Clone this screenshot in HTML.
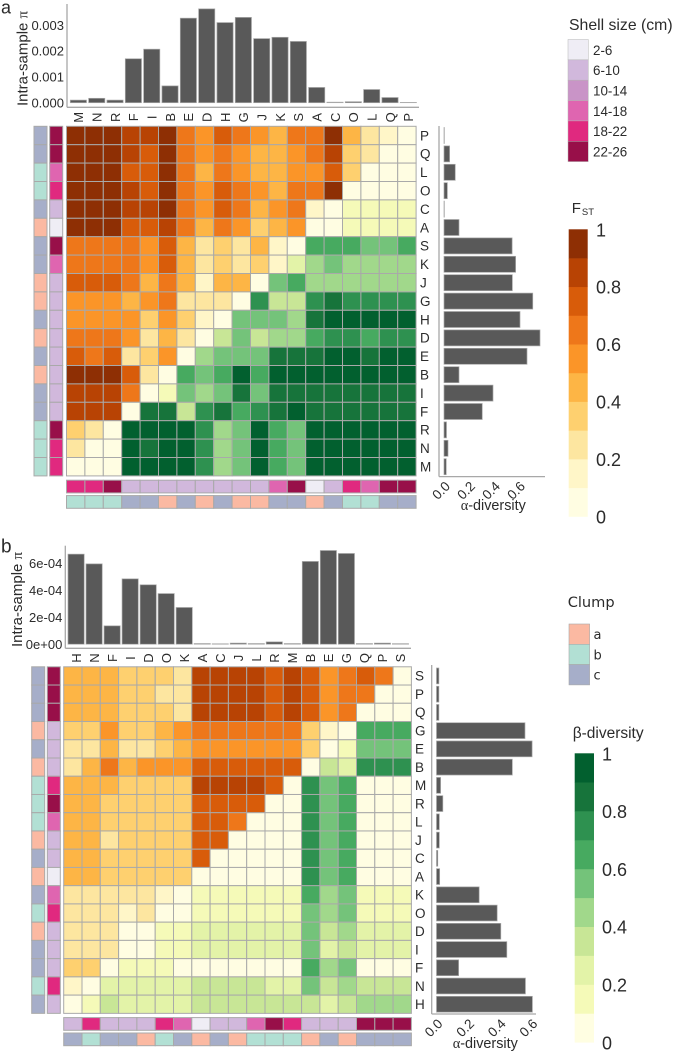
<!DOCTYPE html>
<html>
<head>
<meta charset="utf-8">
<title>Population genetics heatmaps</title>
<style>
html,body{margin:0;padding:0;background:#fff;width:675px;height:1052px;overflow:hidden}
svg{display:block;filter:blur(0.35px)}
text{font-family:"Liberation Sans",sans-serif;fill:#2b2b2b}
</style>
</head>
<body>
<svg id="chart" xmlns="http://www.w3.org/2000/svg" width="675" height="1052" viewBox="0 0 675 1052">
<text x="1" y="13.5" font-size="18">a</text>
<text x="1" y="552.5" font-size="19">b</text>
</svg>
<script>
/* Palettes: decile codes 0-9 = FST (orange), 10-19 = beta-diversity (green) */
const fstColors = ['#fffde2','#fff6c8','#fde6a0','#fed06f','#fdb545','#fb9528','#ee771a','#d85c0a','#b84304','#8e2f04'];
const betaColors = ['#fffee2','#f5fab8','#e3f3a8','#c8e696','#a1d88b','#74c37a','#47aa60','#2e9150','#17743b','#02602f'];
const shellColors = ['#efedf5','#d1b8dc','#c994c7','#df65b0','#e0297f','#980f49'];
const clumpColors = ['#fbb9a2','#b2e0d4','#a6aec9'];

const shellLabels = ['2-6','6-10','10-14','14-18','18-22','22-26'];
const clumpLabels = ['a','b','c'];
const scaleLabels = ['1','0.8','0.6','0.4','0.2','0'];

/* Panel a */
const colsA = ['M','N','R','F','I','B','E','D','H','G','J','K','S','A','C','O','L','Q','P'];
const rowsA = ['P','Q','L','O','C','A','S','K','J','G','H','D','E','B','I','F','R','N','M'];
const matrixA = [
[9,9,9,8,8,9,6,5,7,6,5,4,6,6,9,4,2,1,0],
[9,9,9,8,7,9,6,5,6,5,4,4,5,6,8,3,2,0,0],
[9,9,9,7,7,9,6,4,6,5,4,4,5,5,7,3,0,0,0],
[9,9,9,8,7,9,6,5,7,6,5,4,6,6,9,0,0,0,0],
[9,9,9,8,8,9,6,5,7,6,4,5,6,1,0,11,11,11,11],
[9,9,9,7,7,8,6,4,6,5,3,4,5,0,0,11,11,11,11],
[6,6,6,6,5,7,4,2,3,2,4,1,0,16,16,16,15,15,16],
[6,6,6,6,5,7,4,2,3,2,3,1,12,14,15,14,14,14,14],
[7,7,7,6,4,6,4,1,4,4,0,15,16,14,14,14,14,14,14],
[5,5,5,4,5,6,2,2,2,0,17,13,13,17,18,17,17,17,17],
[5,5,5,5,3,5,3,1,0,15,15,15,14,18,19,19,19,19,19],
[6,6,6,5,2,4,2,0,13,15,13,14,14,16,17,17,16,17,17],
[7,6,7,2,3,5,0,14,15,15,15,18,18,18,19,19,18,19,19],
[9,9,9,7,2,0,16,15,16,19,16,19,19,19,19,19,19,19,19],
[8,8,8,6,0,11,15,14,15,18,15,18,18,18,18,18,18,18,18],
[8,8,8,0,18,18,13,17,18,16,17,18,19,18,18,18,18,18,18],
[3,2,0,19,19,19,19,17,14,15,19,16,15,19,19,19,19,19,19],
[2,0,0,19,18,19,19,17,14,15,19,16,15,19,19,19,19,19,19],
[0,0,0,19,19,19,19,17,14,15,19,16,15,19,19,19,19,19,19]
];
const rowClumpA = [2,2,1,1,2,0,2,2,0,0,2,0,2,0,2,2,1,1,1];
const rowShellA = [5,5,3,4,1,0,5,3,1,1,1,1,1,1,1,1,5,4,4];
const colShellA = [4,4,5,1,1,1,1,1,1,1,1,3,5,0,1,4,3,5,5];
const colClumpA = [1,1,1,2,2,0,2,0,2,0,0,2,2,0,2,1,1,2,2];
const piA = [0.0001,0.00017,0.0001,0.0017,0.00207,0.00065,0.00327,0.00363,0.0031,0.0033,0.00248,0.00253,0.00237,0.00059,0.00002,0.00004,0.00051,0.0002,0.00001];
const piTicksA = [0,0.001,0.002,0.003];
const piTickLabelsA = ['0.000','0.001','0.002','0.003'];
const alphaA = [0.003,0.045,0.09,0.027,0.003,0.12,0.545,0.573,0.547,0.71,0.608,0.768,0.664,0.12,0.392,0.306,0.02,0.032,0.018];

/* Panel b */
const colsB = ['H','N','F','I','D','O','K','A','C','J','L','R','M','B','E','G','Q','P','S'];
const rowsB = ['S','P','Q','G','E','B','M','R','L','J','C','A','K','O','D','I','F','N','H'];
const matrixB = [
[4,4,4,3,3,3,2,8,8,8,8,7,8,7,5,6,7,6,0],
[4,4,4,3,3,2,2,8,8,8,8,7,8,7,5,6,6,0,0],
[4,4,4,3,3,3,2,8,8,8,8,7,8,7,5,6,0,0,0],
[3,3,5,3,3,4,5,6,6,6,6,6,6,3,1,0,16,16,16],
[2,2,4,2,2,3,4,5,5,5,5,5,5,3,0,11,15,15,15],
[2,4,6,4,5,5,5,7,7,7,7,7,7,0,13,12,17,17,17],
[4,4,4,3,3,3,3,8,8,8,8,7,0,17,15,16,0,0,0],
[4,4,3,3,3,3,3,7,7,7,7,0,0,17,15,16,0,0,0],
[4,4,3,3,3,3,3,7,7,6,0,0,0,17,15,16,0,0,0],
[4,4,2,3,3,3,3,7,7,0,0,0,0,17,15,16,0,0,0],
[4,4,3,3,3,3,3,7,0,0,0,0,0,17,15,16,0,0,0],
[4,4,3,3,3,3,3,0,0,0,0,0,0,17,15,16,0,0,0],
[2,2,2,2,2,1,0,11,11,11,11,11,11,16,14,15,11,11,11],
[2,2,2,1,2,0,0,11,11,11,11,11,11,15,14,15,11,11,11],
[2,2,2,0,0,11,11,12,12,12,12,12,12,15,13,14,12,12,12],
[2,2,2,0,0,11,11,12,12,12,12,12,12,15,12,13,12,12,12],
[3,3,0,11,11,11,0,0,0,0,0,0,0,16,14,15,0,0,0],
[1,0,12,12,12,12,12,13,13,13,13,12,12,15,13,14,13,13,13],
[0,11,13,12,12,12,12,13,13,13,13,13,13,13,12,13,14,14,14]
];
const rowClumpB = [2,2,2,0,2,0,1,1,1,0,2,0,2,1,0,2,2,1,2];
const rowShellB = [5,5,5,1,1,1,4,5,3,1,1,0,3,4,1,1,1,4,1];
const colShellB = [1,4,1,1,1,4,3,0,1,1,3,5,4,1,1,1,5,5,5];
const colClumpB = [2,1,2,2,0,1,2,0,2,0,1,1,1,0,2,0,2,2,2];
const piB = [6.67e-4,5.95e-4,1.36e-4,4.84e-4,4.4e-4,3.75e-4,2.72e-4,0.05e-4,0.03e-4,0.08e-4,0.05e-4,0.17e-4,0.05e-4,6.13e-4,6.94e-4,6.72e-4,0.05e-4,0.08e-4,0.04e-4];
const piTicksB = [0,2e-4,4e-4,6e-4];
const piTickLabelsB = ['0e+00','2e-04','4e-04','6e-04'];
const alphaB = [0.015,0.015,0.015,0.56,0.605,0.48,0.026,0.04,0.018,0.018,0.008,0.02,0.27,0.384,0.407,0.445,0.14,0.563,0.607];

const alphaTicks = [0,0.2,0.4,0.6];
const alphaTickLabels = ['0.0','0.2','0.4','0.6'];

const svg = document.getElementById('chart');
const NS = 'http://www.w3.org/2000/svg';
const GRID = '#a9a9a9';

function shape(tag, attrs) {
  const el = document.createElementNS(NS, tag);
  for (const k in attrs) el.setAttribute(k, attrs[k]);
  svg.appendChild(el);
  return el;
}
function label(str, attrs) {
  const el = shape('text', attrs);
  el.textContent = str;
  return el;
}
function cellColor(v) {
  return v < 10 ? fstColors[v] : betaColors[v - 10];
}

function drawPanel(p) {
  const xCell = i => p.heatLeft + i * p.cellW;
  const yCell = i => p.heatTop + i * p.cellH;
  const xTopBar = i => p.topBarStart + i * p.topBarStep;
  const yPi = v => p.piZero - v * p.piScale;
  const xAlpha = v => p.alphaZero + v * p.alphaScale;

  /* heatmap */
  p.matrix.forEach((row, r) => {
    row.forEach((v, c) => {
      const cell = shape('rect', {x: xCell(c), y: yCell(r), width: p.cellW, height: p.cellH, fill: cellColor(v), stroke: GRID, 'stroke-width': 1});
      
      
    });
  });

  /* row annotation strips and row labels */
  p.rows.forEach((name, r) => {
    const a = shape('rect', {x: p.clumpX, y: yCell(r), width: 13, height: p.cellH, fill: clumpColors[p.rowClump[r]], stroke: GRID, 'stroke-width': 1});
    
    
    const b = shape('rect', {x: p.shellX, y: yCell(r), width: 13, height: p.cellH, fill: shellColors[p.rowShell[r]], stroke: GRID, 'stroke-width': 1});
    
    
    const t = label(name, {x: p.rowLabelX, y: yCell(r) + p.cellH / 2 + 4.8, 'font-size': 13.5});
    
    
    const bar = shape('rect', {x: xAlpha(0), y: yCell(r) + 1.2, width: xAlpha(p.alpha[r]) - xAlpha(0), height: p.cellH - 2.4, fill: '#595959', stroke: '#a8a8a8', 'stroke-width': 0.7});
    
    
  });

  /* column annotation strips, column labels, top bars */
  p.cols.forEach((name, c) => {
    const a = shape('rect', {x: xCell(c), y: p.colShellY, width: p.cellW, height: 12.7, fill: shellColors[p.colShell[c]], stroke: GRID, 'stroke-width': 1});
    
    
    const b = shape('rect', {x: xCell(c), y: p.colClumpY, width: p.cellW, height: 12.7, fill: clumpColors[p.colClump[c]], stroke: GRID, 'stroke-width': 1});
    
    
    const bx = xTopBar(c);
    const bar = shape('rect', {x: bx, y: yPi(p.pi[c]), width: 16.2, height: yPi(0) - yPi(p.pi[c]), fill: '#595959', stroke: '#a8a8a8', 'stroke-width': 0.7});
    
    
    const t = label(name, {transform: 'translate(' + (bx + 8.2) + ',' + p.colLabelY + ') rotate(-90)', 'text-anchor': 'middle', dy: '0.36em', 'font-size': 13});
    
    
  });

  /* top axis */
  const topY = shape('line', {x1: p.piAxisX, x2: p.piAxisX, y1: p.piAxisTop, y2: p.piAxisBottom, stroke: '#a8a8a8', 'stroke-width': 1.3});
  
  
  const topX = shape('line', {x1: p.piAxisX, x2: p.piAxisRight, y1: p.piAxisBottom, y2: p.piAxisBottom, stroke: '#a8a8a8', 'stroke-width': 1.3});
  
  
  p.piTicks.forEach((v, i) => {
    const t = label(p.piTickLabels[i], {x: p.piAxisX - 3, y: yPi(v) + 4.6, 'text-anchor': 'end', 'font-size': 13});
    
    
  });
  const piTitle = label('Intra-sample ', {transform: 'translate(' + p.piTitleX + ',' + p.piTitleY + ') rotate(-90)', 'font-size': 15});
  const piSym = document.createElementNS(NS, 'tspan');
  piSym.setAttribute('font-family', '"Liberation Serif",serif');
  piSym.textContent = 'π';
  piTitle.appendChild(piSym);
  
  

  /* alpha axis */
  const alY = shape('line', {x1: p.alAxisX, x2: p.alAxisX, y1: p.alAxisTop, y2: p.alAxisBottom, stroke: '#a8a8a8', 'stroke-width': 1.3});
  
  
  const alX = shape('line', {x1: p.alAxisX, x2: p.alAxisRight, y1: p.alAxisBottom, y2: p.alAxisBottom, stroke: '#a8a8a8', 'stroke-width': 1.3});
  
  
  alphaTicks.forEach((v, i) => {
    const t = label(alphaTickLabels[i], {transform: 'translate(' + (xAlpha(v) + 7) + ',' + (p.alAxisBottom + 10.5) + ') rotate(-45)', 'text-anchor': 'end', 'font-size': 13.5});
    
    
  });
  const alTitle = label('', {x: p.alTitleX, y: p.alTitleY, 'font-size': 14.4});
  const alSym = document.createElementNS(NS, 'tspan');
  alSym.setAttribute('font-family', '"Liberation Serif",serif');
  alSym.textContent = 'α';
  alTitle.appendChild(alSym);
  alTitle.appendChild(document.createTextNode('-diversity'));
  
  
}

drawPanel({id:'a', cols:colsA, rows:rowsA, matrix:matrixA, rowClump:rowClumpA, rowShell:rowShellA, colShell:colShellA, colClump:colClumpA, pi:piA, piTicks:piTicksA, piTickLabels:piTickLabelsA, alpha:alphaA,
  heatLeft:66.5, heatTop:126.3, cellW:18.4, cellH:18.4, clumpX:34, shellX:49.7, colShellY:480.2, colClumpY:495.6, rowLabelX:420,
  topBarStart:70.3, topBarStep:18.33, colLabelY:117.3, piZero:102.7, piScale:25850, piAxisX:67, piAxisTop:4, piAxisBottom:107.3, piAxisRight:419, piTitleX:27.5, piTitleY:106,
  alphaZero:444, alphaScale:125, alAxisX:439, alAxisTop:126, alAxisBottom:476.6, alAxisRight:545, alTitleX:460.7, alTitleY:510});

drawPanel({id:'b', cols:colsB, rows:rowsB, matrix:matrixB, rowClump:rowClumpB, rowShell:rowShellB, colShell:colShellB, colClump:colClumpB, pi:piB, piTicks:piTicksB, piTickLabels:piTickLabelsB, alpha:alphaB,
  heatLeft:63.7, heatTop:666.8, cellW:18.3, cellH:18.24, clumpX:31.7, shellX:47.3, colShellY:1017.6, colClumpY:1033, rowLabelX:415,
  topBarStart:68, topBarStep:18.02, colLabelY:658, piZero:644.2, piScale:135000, piAxisX:65.3, piAxisTop:545.7, piAxisBottom:648.3, piAxisRight:411, piTitleX:22, piTitleY:647,
  alphaZero:436.5, alphaScale:158, alAxisX:431.7, alAxisTop:665, alAxisBottom:1014, alAxisRight:536, alTitleX:452.7, alTitleY:1048});

/* Shell size legend */
const shellTitle = label('Shell size (cm)', {x: 569, y: 30, 'font-size': 15.8});


shellLabels.forEach((s, i) => {
  const sw = shape('rect', {x: 568, y: 39.5 + i * 20.35, width: 20.3, height: 20.35, fill: shellColors[i], stroke: '#b5b5b5', 'stroke-width': 0.5});
  
  
  const t = label(s, {x: 593, y: 54.8 + i * 20.35, 'font-size': 13.4});
  
  
});

/* Clump legend */
const clumpTitle = label('Clump', {x: 567.7, y: 607, 'font-size': 14.6, style: 'font-family:"DejaVu Sans",sans-serif'});


clumpLabels.forEach((s, i) => {
  const sw = shape('rect', {x: 569, y: 624 + i * 20.3, width: 20.6, height: 20.3, fill: clumpColors[i], stroke: '#a8a8a8', 'stroke-width': 0.6});
  
  
  const t = label(s, {x: 593.5, y: 639 + i * 20.3, 'font-size': 13, style: 'font-family:"DejaVu Sans",sans-serif'});
  
  
});

/* Color scales */
function drawScale(id, colors, x, top, w, step, labelX) {
  colors.forEach((col, i) => {
    const sw = shape('rect', {x: x, y: top + (9 - i) * step, width: w, height: step + 0.3, fill: col});
    
    
  });
  scaleLabels.forEach((s, i) => {
    const t = label(s, {x: labelX, y: top + 7 + i * step * 2, 'font-size': 18});
    
    
  });
}
drawScale('fst', fstColors, 568.7, 229.3, 19, 28.72, 596);
drawScale('beta', betaColors, 574.7, 753.3, 19.3, 28.9, 602);

const fstTitle = label('F', {x: 571.7, y: 213, 'font-size': 15});
const fstSub = document.createElementNS(NS, 'tspan');
fstSub.setAttribute('font-size', '9.5');
fstSub.setAttribute('dy', '2');
fstSub.setAttribute('dx', '1');
fstSub.textContent = 'ST';
fstTitle.appendChild(fstSub);



const betaTitle = label('β-diversity', {x: 572.7, y: 738, 'font-size': 15.5});


</script>
</body>
</html>
